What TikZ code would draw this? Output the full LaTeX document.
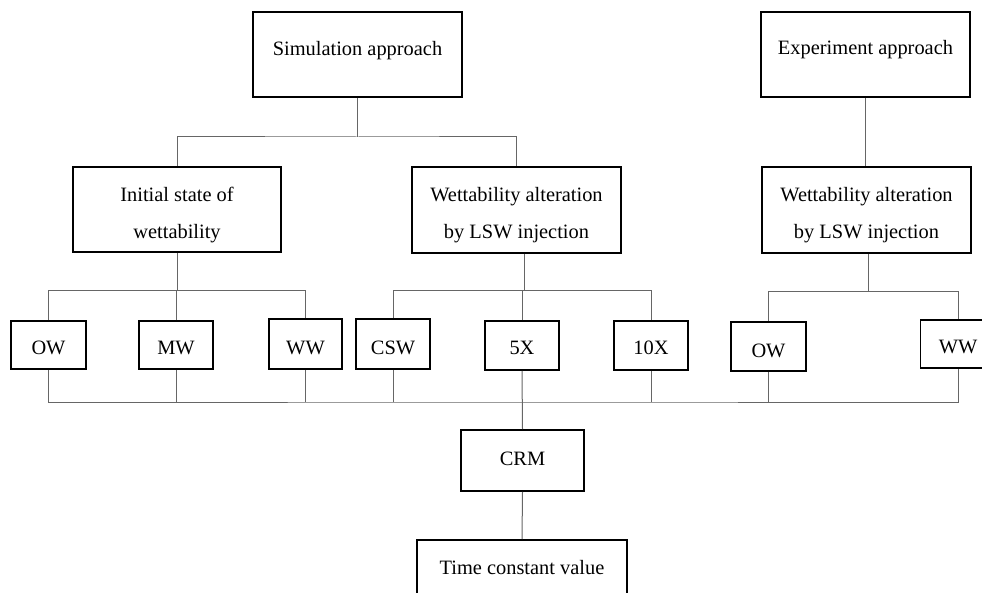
\documentclass[tikz,border=0pt]{standalone}
\usepackage{fontspec}
\setmainfont{Liberation Serif}
\begin{document}
\begin{tikzpicture}[x=1pt,y=-1pt,
  box/.style={draw=black,line width=1.6pt,inner sep=0pt,fill=white,
    font=\fontsize{20.4}{37}\selectfont,anchor=base},
  conn/.style={draw=black!60,line width=1pt}]
\useasboundingbox (0,0) rectangle (982,593);
\clip (0,0) rectangle (982,593);
% top level
\node[box,text height=44pt,text depth=41pt] (sim) at (357.5,56)
  {\parbox[t]{209pt}{\centering Simulation approach}};
\node[box,text height=43pt,text depth=42pt] (exp) at (865.5,55)
  {\parbox[t]{209pt}{\centering Experiment approach}};
% second level
\node[box,text height=35pt,text depth=50pt] (init) at (177,202)
  {\parbox[t]{208pt}{\centering Initial state of\\wettability}};
\node[box,text height=35pt,text depth=51pt] (walt) at (516.5,202)
  {\parbox[t]{209pt}{\centering Wettability alteration\\by LSW injection}};
\node[box,text height=35pt,text depth=51pt] (ewalt) at (866.5,202)
  {\parbox[t]{209pt}{\centering Wettability alteration\\by LSW injection}};
% third level
\node[box,text height=34pt,text depth=14pt] (ow1) at (48.5,355)
  {\parbox[t]{75pt}{\centering OW}};
\node[box,text height=34pt,text depth=14pt] (mw) at (176,355)
  {\parbox[t]{74pt}{\centering MW}};
\node[box,text height=36pt,text depth=14pt] (ww1) at (305.5,355)
  {\parbox[t]{73pt}{\centering WW}};
\node[box,text height=36pt,text depth=14pt] (csw) at (393,355)
  {\parbox[t]{74pt}{\centering CSW}};
\node[box,text height=34pt,text depth=15pt] (fivex) at (522,355)
  {\parbox[t]{74pt}{\centering 5X}};
\node[box,text height=34pt,text depth=15pt] (tenx) at (651,355)
  {\parbox[t]{74pt}{\centering 10X}};
\node[box,text height=35pt,text depth=14pt] (ow2) at (768.5,357)
  {\parbox[t]{75pt}{\centering OW}};
\node[box,text height=34pt,text depth=14pt] (ww2) at (958,354)
  {\parbox[t]{75pt}{\centering WW}};
% bottom
\node[box,text height=35pt,text depth=26pt] (crm) at (522.5,465)
  {\parbox[t]{123pt}{\centering CRM}};
\node[box,text height=34pt,text depth=46pt] (time) at (522,574)
  {\parbox[t]{210pt}{\centering Time constant value}};
% connectors
\coordinate (t1) at (357.5,137);
\draw[conn] (sim.south) -- (t1);
\draw[conn] (init.north) |- (t1) -| (walt.north);
\draw[conn] (exp.south) -- (exp.south |- ewalt.north);
\draw[conn] (init.south) -- ++(0,38) coordinate (t2);
\draw[conn] (ow1.north) |- (t2) -| (ww1.north);
\draw[conn] (mw.north) -- (mw.north |- t2);
\draw[conn] ([xshift=8pt]walt.south) -- ++(0,37) coordinate (t3);
\draw[conn] (csw.north) |- (t3) -| (tenx.north);
\draw[conn] (fivex.north) -- (fivex.north |- t3);
\draw[conn] ([xshift=2pt]ewalt.south) -- ++(0,38) coordinate (t4);
\draw[conn] (ow2.north) |- (t4) -| (ww2.north);
\coordinate (bus) at (522,402);
\draw[conn] (ow1.south) |- (bus) -| (ww2.south);
\foreach \n in {mw,ww1,csw,tenx,ow2}
  \draw[conn] (\n.south) -- (\n.south |- bus);
\draw[conn] (fivex.south) -- (crm.north);
\draw[conn] (crm.south) -- (time.north);
\end{tikzpicture}
\end{document}
